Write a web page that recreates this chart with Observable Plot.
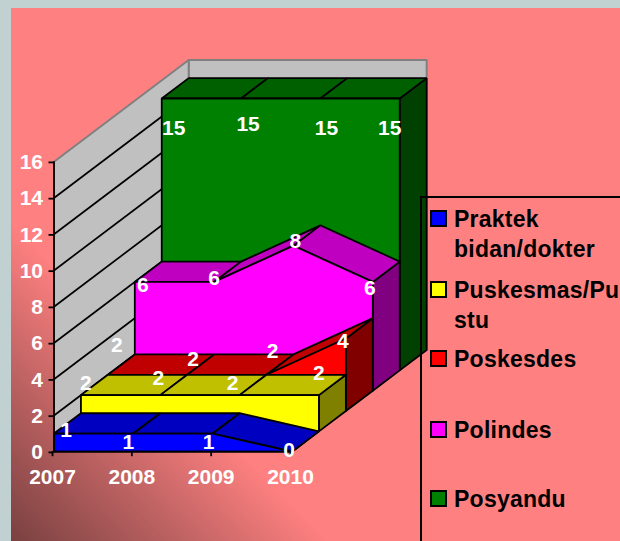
<!DOCTYPE html>
<html>
<head>
<meta charset="utf-8">
<script src="https://cdn.jsdelivr.net/npm/d3@7"></script>
<script src="https://cdn.jsdelivr.net/npm/@observablehq/plot@0.6"></script>
<style>
html,body{margin:0;padding:0;background:#C1D1D1;}
#stage{position:relative;width:620px;height:541px;overflow:hidden;font-family:"Liberation Sans",Arial,sans-serif;}
#panel{position:absolute;left:11px;top:8px;right:0;bottom:0;background:linear-gradient(45deg,#7a4040 0%,#b96060 14%,#ff8080 28%);}
#chart{position:absolute;left:0;top:0;}
#legendBox{position:absolute;left:420px;top:196px;right:-5px;bottom:-5px;border-left:2px solid #000;border-top:2px solid #000;}
.sw{position:absolute;width:13px;height:13px;border:2px solid #000;left:430px;}
.lt{position:absolute;left:454px;font-weight:700;font-size:23px;line-height:30px;color:#000;white-space:pre;letter-spacing:.25px;}
</style>
</head>
<body>
<div id="stage"><div id="panel"></div><div id="chart"></div><div id="legendBox"></div></div>
<script>
const years = [2007, 2008, 2009, 2010];
const yTicks = [0, 2, 4, 6, 8, 10, 12, 14, 16];
const seriesNames = ["Praktek bidan/dokter", "Puskesmas/Pustu", "Poskesdes", "Polindes", "Posyandu"];
const praktek = [1, 1, 1, 0];
const puskesmas = [2, 2, 2, 2];
const poskesdes = [2, 2, 2, 4];
const polindes = [6, 6, 8, 6];
const posyandu = [15, 15, 15, 15];
const frontColors = ["#0000FF", "#FFFF00", "#FF0000", "#FF00FF", "#008000"];
const topColors = ["#0000C0", "#C0C000", "#C00000", "#C000C0", "#006000"];
const sideColors = ["#000080", "#808000", "#800000", "#800080", "#004000"];
const legendLines = [["Praktek", "bidan/dokter"], ["Puskesmas/Pu", "stu"], ["Poskesdes"], ["Polindes"], ["Posyandu"]];

const allSeries = [praktek, puskesmas, poskesdes, polindes, posyandu];

// Oblique projection: one depth step, expressed in data units
const depthX = 0.3395, depthY = 1.122, depthSteps = 5;
const px = (year, d) => year + d * depthX;
const py = (v, d) => v + d * depthY;

// Collect every face as a closed polygon, painter's order (back to front)
const pts = [];
let faceId = 0;
function face(corners, fill, stroke) {
  const id = faceId++;
  for (const [year, v, d] of corners) pts.push({id, x: px(year, d), y: py(v, d), fill, stroke});
}
const y0 = years[0], y1 = years[years.length - 1];
face([[y0, 0, depthSteps], [y1, 0, depthSteps], [y1, 16, depthSteps], [y0, 16, depthSteps]], "#C0C0C0", "#808080");
face([[y0, 0, 0], [y0, 0, depthSteps], [y0, 16, depthSteps], [y0, 16, 0]], "#C0C0C0", "#808080");
const wallFaces = pts.slice();
pts.length = 0;

for (let d = depthSteps - 1; d >= 0; d--) {
  const vals = allSeries[d];
  const last = vals.length - 1;
  face([[y1, 0, d], [y1, vals[last], d], [y1, vals[last], d + 1], [y1, 0, d + 1]], sideColors[d], "#000");
  for (let i = 0; i < last; i++) {
    face([[years[i], vals[i], d], [years[i + 1], vals[i + 1], d], [years[i + 1], vals[i + 1], d + 1], [years[i], vals[i], d + 1]], topColors[d], "#000");
  }
  face([...years.map((yr, i) => [yr, vals[i], d]), [y1, 0, d], [y0, 0, d]], frontColors[d], "#000");
}

// Hand placement of the value labels relative to their data point (screen px)
const labelNudges = [
  [[12, -3], [-5, 9], [-4, 9], [-3, -1]],
  [[5, -12], [-2, -17], [-7, -12], [0, -22]],
  [[9, -30], [6, -16], [6, -24], [-3, 3]],
  [[8, 3], [0, -4], [2, -4], [-3, 6]],
  [[12, 30], [7, 26], [6, 30], [-10, 30]]
];
const labelMarks = allSeries.flatMap((vals, d) => vals.map((v, i) =>
  Plot.text([{x: px(years[i], d), y: py(v, d), t: String(v)}], {
    x: "x", y: "y", text: "t",
    dx: labelNudges[d][i][0], dy: labelNudges[d][i][1],
    fill: "#fff", fontSize: 21, fontWeight: 700
  })));

const gridRows = yTicks.filter(v => v > 0 && v < 16);

const chart = Plot.plot({
  width: 620, height: 541,
  marginLeft: 53.5, marginRight: 328.5, marginTop: 161.2, marginBottom: 89.8,
  style: {background: "transparent", fontFamily: '"Liberation Sans", Arial, sans-serif'},
  x: {type: "linear", domain: [y0, y1], label: null},
  y: {type: "linear", domain: [0, 16], label: null},
  marks: [
    Plot.line(wallFaces, {x: "x", y: "y", z: "id", fill: "fill", stroke: "stroke", curve: "linear-closed", strokeWidth: 2}),
    Plot.link(gridRows, {
      x1: y0, x2: px(y0, depthSteps),
      y1: v => py(v, 0), y2: v => py(v, depthSteps),
      stroke: "#000", strokeWidth: 1.7
    }),
    Plot.line(pts, {x: "x", y: "y", z: "id", fill: "fill", stroke: "stroke", curve: "linear-closed", strokeWidth: 1.8, strokeLinejoin: "miter"}),
    Plot.ruleX([y0], {y1: 0, y2: 16, stroke: "#000", strokeWidth: 1.8}),
    Plot.ruleY([0], {x1: y0, x2: y1, stroke: "#000", strokeWidth: 1.8}),
    Plot.axisY({ticks: yTicks, tickSize: 5, tickPadding: 6, stroke: "#000", fill: "#fff", strokeWidth: 1.8,
      fontSize: 21, fontWeight: 700, label: null, tickFormat: "d", dy: 0.7}),
    Plot.axisX({ticks: years, tickSize: 5, tickPadding: 12, stroke: "#000", fill: "#fff", strokeWidth: 1.8,
      fontSize: 21, fontWeight: 700, label: null, tickFormat: "d", textAnchor: "middle", dx: -1.5}),
    ...labelMarks
  ]
});
document.getElementById("chart").appendChild(chart);

// Legend, drawn over the chart as in the original slide
const stage = document.getElementById("stage");
const swatchTops = [210, 281, 350, 421, 490];
frontColors.forEach((c, i) => {
  const s = document.createElement("div");
  s.className = "sw";
  s.style.background = c;
  s.style.top = swatchTops[i] + "px";
  stage.appendChild(s);
  legendLines[i].forEach((line, j) => {
    const t = document.createElement("div");
    t.className = "lt";
    t.textContent = line;
    t.style.top = (swatchTops[i] - 6 + j * 30) + "px";
    stage.appendChild(t);
  });
});
</script>
</body>
</html>
